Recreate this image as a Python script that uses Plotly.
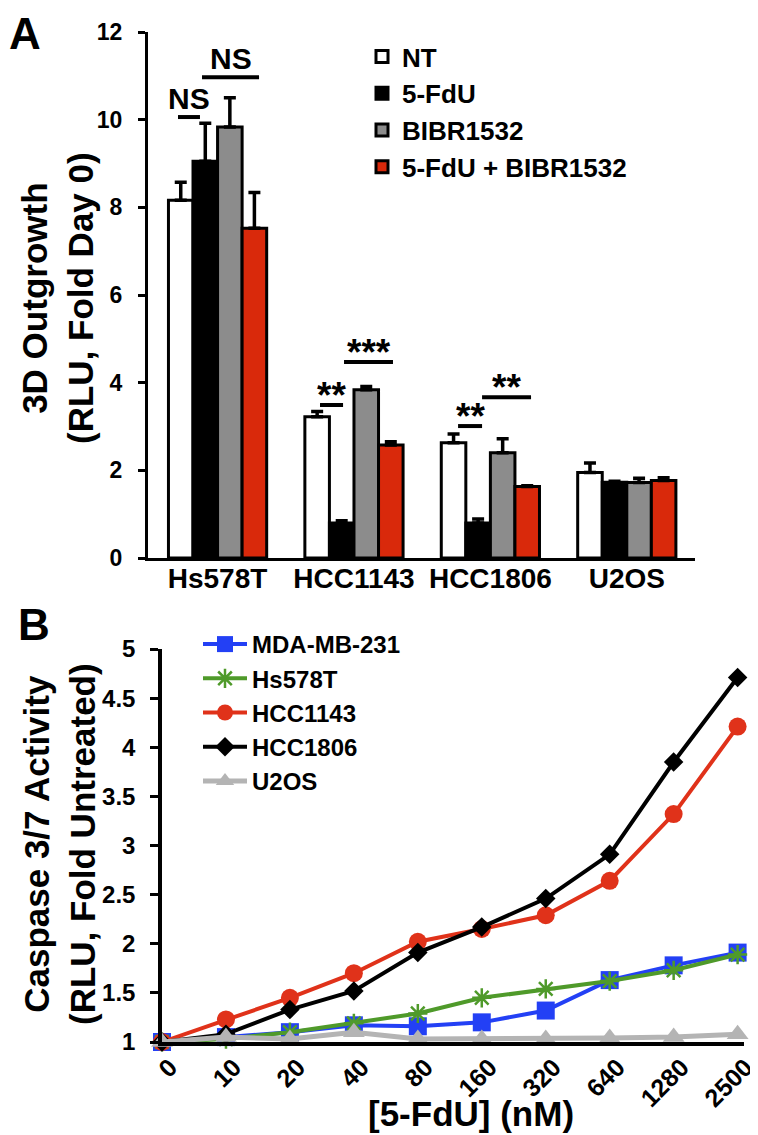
import plotly.graph_objects as go

# ---------------- Panel A data ----------------
cells = ["Hs578T", "HCC1143", "HCC1806", "U2OS"]
nt = [8.16, 3.22, 2.63, 1.95]
nt_err = [0.41, 0.12, 0.20, 0.22]
fdu = [9.05, 0.80, 0.80, 1.73]
fdu_err = [0.87, 0.05, 0.09, 0.02]
bibr = [9.83, 3.84, 2.40, 1.72]
bibr_err = [0.67, 0.07, 0.32, 0.10]
combo = [7.52, 2.58, 1.63, 1.77]
combo_err = [0.82, 0.07, 0.02, 0.06]
bar_names = ["NT", "5-FdU", "BIBR1532", "5-FdU + BIBR1532"]

# significance brackets (category-index units on x, data units on y)
sig_x0 = [-0.29, -0.114, 0.751, 0.927, 1.763, 1.939]
sig_x1 = [-0.129, 0.304, 0.920, 1.286, 1.939, 2.298]
sig_y = [10.06, 10.97, 3.49, 4.47, 3.01, 3.67]
sig_txt = ["NS", "NS", "**", "***", "**", "**"]

# ---------------- Panel B data ----------------
doses = ["0", "10", "20", "40", "80", "160", "320", "640", "1280", "2500"]
mda = [1.00, 1.05, 1.10, 1.17, 1.16, 1.20, 1.32, 1.63, 1.78, 1.91]
hs578t = [1.00, 1.03, 1.10, 1.19, 1.29, 1.45, 1.54, 1.62, 1.73, 1.89]
hcc1143 = [1.00, 1.23, 1.45, 1.70, 2.02, 2.15, 2.29, 2.64, 3.32, 4.21]
hcc1806 = [1.00, 1.08, 1.33, 1.52, 1.91, 2.17, 2.46, 2.91, 3.85, 4.71]
u2os = [1.00, 1.05, 1.03, 1.10, 1.03, 1.03, 1.03, 1.04, 1.05, 1.08]
line_names = ["MDA-MB-231", "Hs578T", "HCC1143", "HCC1806", "U2OS"]

FONT = "Liberation Sans, Arial, sans-serif"
W, H = 758, 1135
OFF = 8  # page offset of the figure in the browser


def fx(px):
    return (px - OFF) / W


def fy(py):
    return 1 - (py - OFF) / H


fig = go.Figure()

bar_fill = ["white", "black", "#8c8c8c", "#d9290b"]
for name, vals, errs, col in zip(bar_names, [nt, fdu, bibr, combo],
                                  [nt_err, fdu_err, bibr_err, combo_err], bar_fill):
    fig.add_trace(go.Bar(
        x=cells, y=vals, name=name, xaxis="x", yaxis="y", legend="legend",
        marker=dict(color=col, line=dict(color="black", width=3)),
        error_y=dict(type="data", array=errs, arrayminus=[0] * len(errs), symmetric=False,
                     color="black", thickness=3.5, width=6),
    ))

line_cols = ["#2340f5", "#4f9a2a", "#e0321a", "black", "#b4b4b4"]
symbols = ["square", "asterisk-open", "circle", "diamond", "triangle-up"]
sizes = [18, 16, 18, 15, 19]
widths = [4, 4, 4, 4, 5]
for name, vals, col, sym, sz, lw in zip(line_names, [mda, hs578t, hcc1143, hcc1806, u2os],
                                        line_cols, symbols, sizes, widths):
    mk = dict(symbol=sym, size=sz, color=col)
    if sym == "asterisk-open":
        mk["line"] = dict(color=col, width=2.5)
    fig.add_trace(go.Scatter(
        x=doses, y=vals, name=name, mode="lines+markers", xaxis="x2", yaxis="y2",
        legend="legend2", cliponaxis=False,
        line=dict(color=col, width=lw), marker=mk,
    ))

shapes = []
annotations = []
for x0, x1, y, t in zip(sig_x0, sig_x1, sig_y, sig_txt):
    shapes.append(dict(type="line", xref="x", yref="y", x0=x0, x1=x1, y0=y, y1=y,
                       line=dict(color="black", width=4)))
    is_ns = t == "NS"
    annotations.append(dict(
        x=(x0 + x1) / 2, y=y, xref="x", yref="y", text=t, showarrow=False,
        yanchor="bottom", yshift=(0 if is_ns else -13),
        font=dict(family=FONT, size=(30 if is_ns else 37), color="black", weight="bold")))

# axis titles & panel labels
annotations += [
    dict(x=fx(57), y=fy(298), xref="paper", yref="paper", textangle=-90,
         text="3D Outgrowth<br>(RLU, Fold Day 0)", showarrow=False,
         xanchor="center", yanchor="middle",
         font=dict(family=FONT, size=35, color="black", weight="bold")),
    dict(x=fx(59), y=fy(844), xref="paper", yref="paper", textangle=-90,
         text="Caspase 3/7 Activity<br>(RLU, Fold Untreated)", showarrow=False,
         xanchor="center", yanchor="middle",
         font=dict(family=FONT, size=35, color="black", weight="bold")),
    dict(x=fx(471), y=fy(1113), xref="paper", yref="paper",
         text="[5-FdU] (nM)", showarrow=False, xanchor="center", yanchor="middle",
         font=dict(family=FONT, size=35, color="black", weight="bold")),
    dict(x=fx(8), y=fy(8), xref="paper", yref="paper", text="A", showarrow=False,
         xanchor="left", yanchor="top", borderpad=0,
         font=dict(family=FONT, size=44, color="black", weight="bold")),
    dict(x=fx(34), y=fy(624), xref="paper", yref="paper", text="B", showarrow=False,
         xanchor="center", yanchor="middle",
         font=dict(family=FONT, size=44, color="black", weight="bold")),
]

fig.update_layout(
    width=W, height=H, margin=dict(l=0, r=0, t=0, b=0, autoexpand=False),
    paper_bgcolor="white", plot_bgcolor="white",
    font=dict(family=FONT, color="black"),
    barmode="group", bargap=0.28, bargroupgap=0,
    xaxis=dict(domain=[fx(148), fx(695)], anchor="y", range=[-0.51, 3.5], automargin=False,
               showline=True, linecolor="black", linewidth=3, ticks="",
               showgrid=False, zeroline=False, ticklabelstandoff=-7,
               tickfont=dict(family=FONT, size=28, color="black", weight="bold")),
    yaxis=dict(domain=[fy(558), fy(32)], anchor="x", range=[0, 12], dtick=2,
               automargin=False,
               showline=True, linecolor="black", linewidth=3, ticks="outside",
               ticklen=7, tickwidth=3, tickcolor="black", showgrid=False, zeroline=False,
               ticklabelstandoff=11,
               tickfont=dict(family=FONT, size=23, color="black", weight="bold")),
    xaxis2=dict(domain=[fx(162), fx(744)], anchor="y2", range=[0, 9.1], automargin=False,
                showline=True, linecolor="black", linewidth=3.5, ticks="",
                showgrid=False, zeroline=False, tickangle=-45,
                ticklabelshift=8, ticklabelstandoff=-3,
                tickfont=dict(family=FONT, size=25, color="black", weight="bold")),
    yaxis2=dict(domain=[fy(1042), fy(649)], anchor="x2", range=[1, 5], dtick=0.5,
                automargin=False,
                showline=True, linecolor="black", linewidth=3.5, ticks="outside",
                ticklen=8, tickwidth=3, tickcolor="black", showgrid=False, zeroline=False,
                ticklabelstandoff=10,
                tickfont=dict(family=FONT, size=24, color="black", weight="bold")),
    legend=dict(x=fx(362), y=fy(33), xanchor="left", yanchor="top",
                bgcolor="rgba(0,0,0,0)", tracegroupgap=0,
                font=dict(family=FONT, size=26, color="black", weight="bold")),
    legend2=dict(x=fx(198), y=fy(622), xanchor="left", yanchor="top",
                 bgcolor="rgba(0,0,0,0)", tracegroupgap=0, itemwidth=44,
                 font=dict(family=FONT, size=24, color="black", weight="bold")),
    shapes=shapes, annotations=annotations, showlegend=True,
)

fig.write_html("out.html")
